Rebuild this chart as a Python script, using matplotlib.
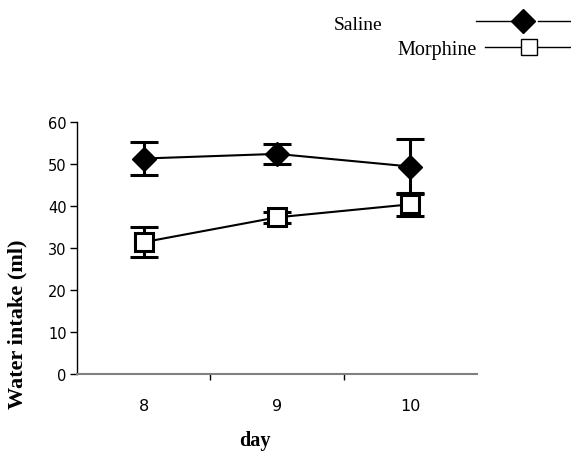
import matplotlib
matplotlib.use("Agg")
import matplotlib.pyplot as plt
from matplotlib.lines import Line2D
import numpy as np

# data
days = ["8", "9", "10"]
saline_mean = [51.3, 52.4, 49.4]
saline_err = [3.9, 2.3, 6.5]
morphine_mean = [31.4, 37.3, 40.4]
morphine_err = [3.6, 1.3, 2.8]

serif = "Liberation Serif"
sans = "DejaVu Sans"

fig = plt.figure(figsize=(5.71, 4.52), dpi=100)
ax = fig.add_axes([0.135, 0.170, 0.700, 0.558])

x = np.arange(len(days))

ax.errorbar(x, saline_mean, yerr=saline_err, color="black", lw=1.5,
            elinewidth=2.2, capsize=10, capthick=2.2,
            marker="D", ms=12.5, mfc="black", mec="black", zorder=3)
ax.errorbar(x, morphine_mean, yerr=morphine_err, color="black", lw=1.5,
            elinewidth=2.2, capsize=10, capthick=2.2,
            marker="s", ms=12.5, mfc="white", mec="black", mew=2.2, zorder=3)

ax.set_xlim(-0.5, 2.5)
ax.set_ylim(0, 60)
ax.set_yticks(range(0, 61, 10))
ax.set_xticks(x)
ax.set_xticklabels(days)
ax.set_xticks([0.5, 1.5], minor=True)

for s in ("top", "right"):
    ax.spines[s].set_visible(False)
ax.spines["left"].set_linewidth(1.0)
ax.spines["bottom"].set_color("#808080")
ax.spines["bottom"].set_linewidth(1.5)

ax.tick_params(axis="y", direction="out", length=5, width=1, pad=2.5,
               labelsize=10.5)
ax.tick_params(axis="x", which="major", length=0, pad=17, labelsize=11.5)
ax.tick_params(axis="x", which="minor", direction="out", length=4, width=1)
for lab in ax.get_xticklabels() + ax.get_yticklabels():
    lab.set_fontfamily(sans)

ax.set_ylabel("Water intake (ml)", fontfamily=serif, fontweight="bold",
              fontsize=16)
ax.yaxis.set_label_coords(-0.125, 0.20)
ax.set_xlabel("day", fontfamily=serif, fontweight="bold", fontsize=14.5)
ax.xaxis.set_label_coords(0.445, -0.222)

# staggered legend in the top right corner
W, H = 571.0, 452.0
fig.add_artist(Line2D([476 / W, 511 / W], [1 - 22 / H] * 2, color="black", lw=1))
fig.add_artist(Line2D([538 / W, 1.0], [1 - 22 / H] * 2, color="black", lw=1))
fig.add_artist(Line2D([523 / W], [1 - 22 / H], marker="D", ms=12.5,
                      mfc="black", mec="black", ls="none"))
fig.text(382 / W, 1 - 25 / H, "Saline", ha="right", va="center",
         fontfamily=serif, fontsize=14)

fig.add_artist(Line2D([485 / W, 1.0], [1 - 48 / H] * 2, color="black", lw=1))
fig.add_artist(Line2D([529 / W], [1 - 48 / H], marker="s", ms=11.5,
                      mfc="white", mec="black", mew=1, ls="none"))
fig.text(477 / W, 1 - 50 / H, "Morphine", ha="right", va="center",
         fontfamily=serif, fontsize=14.5)

fig.savefig("out.png", dpi=100)
